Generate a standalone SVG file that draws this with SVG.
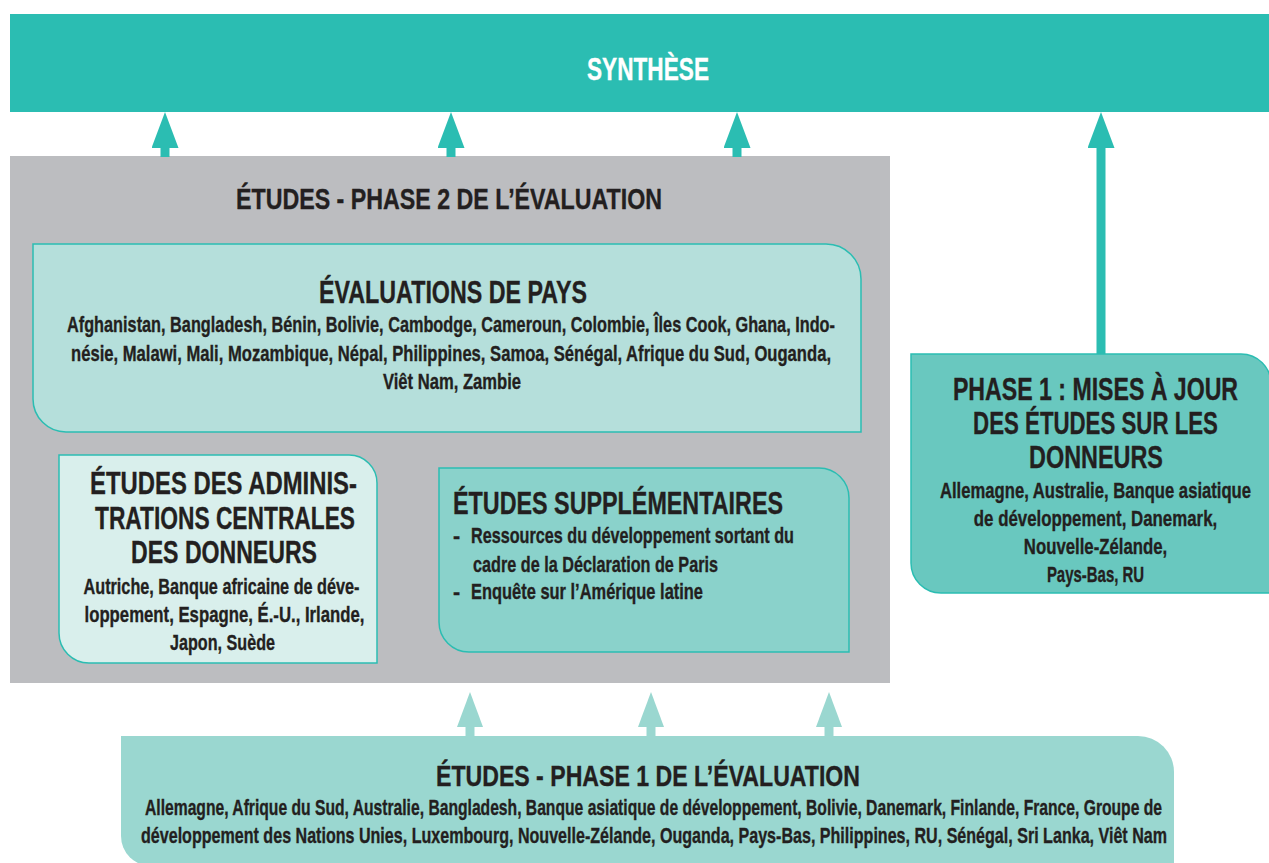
<svg xmlns="http://www.w3.org/2000/svg" width="1269" height="863" viewBox="0 0 1269 863">
<defs>
<style>
.t{font-family:"Liberation Sans Narrow","Liberation Sans","DejaVu Sans Condensed",sans-serif;font-weight:700;fill:#231f20;stroke:#231f20;stroke-width:0.35;}
.w{fill:#ffffff;stroke:#ffffff;}
.c{text-anchor:middle;}
.h{font-size:31px;}
.g{font-size:29.5px;}
.b{font-size:21.5px;}
.box{stroke:#2bbdb2;stroke-width:1.5;}
.a1{stroke:#2bbdb2;stroke-width:9;fill:none;}
.a2{stroke:#9ad7d0;stroke-width:9;fill:none;}
</style>
<marker id="m1" markerUnits="userSpaceOnUse" viewBox="0 0 36 27" refX="0" refY="13.5" markerWidth="36" markerHeight="27" orient="auto">
<path d="M0,0 L36,13.5 L0,27 Z" fill="#2bbdb2"/>
</marker>
<marker id="m2" markerUnits="userSpaceOnUse" viewBox="0 0 35 26" refX="0" refY="13" markerWidth="35" markerHeight="26" orient="auto">
<path d="M0,0 L35,13 L0,26 Z" fill="#9ad7d0"/>
</marker>
</defs>
<rect width="1269" height="863" fill="#ffffff"/>

<g id="synthese">
<rect x="10" y="14" width="1259" height="98" fill="#2bbdb2"/>
<text class="t w c" x="648" y="80" font-size="32" textLength="122" lengthAdjust="spacingAndGlyphs">SYNTHÈSE</text>
</g>

<g id="phase2">
<rect x="10" y="156" width="880" height="527" fill="#bcbdc0"/>
<text class="t g c" x="449" y="209" textLength="426" lengthAdjust="spacingAndGlyphs">ÉTUDES - PHASE 2 DE L’ÉVALUATION</text>
</g>

<g id="evaluations-pays">
<path class="box" d="M33,244 H826 A35,35 0 0 1 861,279 V432 H66 A33,33 0 0 1 33,399 Z" fill="#b5dfdb"/>
<text class="t h c" x="453" y="302.5" textLength="268" lengthAdjust="spacingAndGlyphs">ÉVALUATIONS DE PAYS</text>
<text class="t b c" x="451" y="331.5" textLength="768" lengthAdjust="spacingAndGlyphs">Afghanistan, Bangladesh, Bénin, Bolivie, Cambodge, Cameroun, Colombie, Îles Cook, Ghana, Indo-</text>
<text class="t b c" x="451" y="360.5" textLength="760" lengthAdjust="spacingAndGlyphs">nésie, Malawi, Mali, Mozambique, Népal, Philippines, Samoa, Sénégal, Afrique du Sud, Ouganda,</text>
<text class="t b c" x="452" y="388.5" textLength="138" lengthAdjust="spacingAndGlyphs">Viêt Nam, Zambie</text>
</g>

<g id="administrations-centrales">
<path class="box" d="M59,455 H349 A28,28 0 0 1 377,483 V663 H89 A30,30 0 0 1 59,633 Z" fill="#d9efec"/>
<text class="t h c" x="223.5" y="494" textLength="267" lengthAdjust="spacingAndGlyphs">ÉTUDES DES ADMINIS-</text>
<text class="t h c" x="225" y="529" textLength="260" lengthAdjust="spacingAndGlyphs">TRATIONS CENTRALES</text>
<text class="t h c" x="224" y="563" textLength="186" lengthAdjust="spacingAndGlyphs">DES DONNEURS</text>
<text class="t b c" x="221.5" y="594" textLength="276" lengthAdjust="spacingAndGlyphs">Autriche, Banque africaine de déve-</text>
<text class="t b c" x="224.5" y="621.5" textLength="280" lengthAdjust="spacingAndGlyphs">loppement, Espagne, É.-U., Irlande,</text>
<text class="t b c" x="222.5" y="649.5" textLength="105" lengthAdjust="spacingAndGlyphs">Japon, Suède</text>
</g>

<g id="etudes-supplementaires">
<path class="box" d="M439,468 H819 A30,30 0 0 1 849,498 V652 H469 A30,30 0 0 1 439,622 Z" fill="#8ad2cb"/>
<text class="t h" x="453" y="514" textLength="330" lengthAdjust="spacingAndGlyphs">ÉTUDES SUPPLÉMENTAIRES</text>
<text class="t b" x="453" y="543">-</text>
<text class="t b" x="471" y="543" textLength="323" lengthAdjust="spacingAndGlyphs">Ressources du développement sortant du</text>
<text class="t b" x="473" y="571.5" textLength="245" lengthAdjust="spacingAndGlyphs">cadre de la Déclaration de Paris</text>
<text class="t b" x="453" y="599">-</text>
<text class="t b" x="471" y="599" textLength="232" lengthAdjust="spacingAndGlyphs">Enquête sur l’Amérique latine</text>
</g>

<g id="phase1-donneurs">
<path class="box" d="M911,354 H1241 A30,30 0 0 1 1271,384 V593 H941 A30,30 0 0 1 911,563 Z" fill="#69c8bf"/>
<text class="t h c" transform="translate(1095.5 400) scale(0.72 1)" textLength="396" lengthAdjust="spacingAndGlyphs">PHASE 1 : MISES À JOUR</text>
<text class="t h c" transform="translate(1095.5 434) scale(0.72 1)" textLength="340" lengthAdjust="spacingAndGlyphs">DES ÉTUDES SUR LES</text>
<text class="t h c" transform="translate(1096 468) scale(0.72 1)" textLength="186" lengthAdjust="spacingAndGlyphs">DONNEURS</text>
<text class="t b c" transform="translate(1095.5 497.5) scale(0.72 1)" textLength="432" lengthAdjust="spacingAndGlyphs">Allemagne, Australie, Banque asiatique</text>
<text class="t b c" transform="translate(1095.5 525.5) scale(0.72 1)" textLength="338" lengthAdjust="spacingAndGlyphs">de développement, Danemark,</text>
<text class="t b c" transform="translate(1095.5 553.5) scale(0.72 1)" textLength="199" lengthAdjust="spacingAndGlyphs">Nouvelle-Zélande,</text>
<text class="t b c" transform="translate(1095.5 582) scale(0.72 1)" textLength="135" lengthAdjust="spacingAndGlyphs">Pays-Bas, RU</text>
</g>

<g id="phase1-evaluation">
<path d="M121,736 H1138 A36,36 0 0 1 1174,772 V866 H151 A30,30 0 0 1 121,836 Z" fill="#9ad7d0"/>
<text class="t g c" x="648" y="786" textLength="424" lengthAdjust="spacingAndGlyphs">ÉTUDES - PHASE 1 DE L’ÉVALUATION</text>
<text class="t b c" transform="translate(653.5 815) scale(0.72 1)" textLength="1412.5" lengthAdjust="spacingAndGlyphs">Allemagne, Afrique du Sud, Australie, Bangladesh, Banque asiatique de développement, Bolivie, Danemark, Finlande, France, Groupe de</text>
<text class="t b c" transform="translate(654 843) scale(0.72 1)" textLength="1425" lengthAdjust="spacingAndGlyphs">développement des Nations Unies, Luxembourg, Nouvelle-Zélande, Ouganda, Pays-Bas, Philippines, RU, Sénégal, Sri Lanka, Viêt Nam</text>
</g>

<g id="connectors">
<line class="a1" x1="165" y1="157" x2="165" y2="148" marker-end="url(#m1)"/>
<line class="a1" x1="451" y1="157" x2="451" y2="148" marker-end="url(#m1)"/>
<line class="a1" x1="737" y1="157" x2="737" y2="148" marker-end="url(#m1)"/>
<line class="a1" x1="1101" y1="354" x2="1101" y2="148" marker-end="url(#m1)"/>
<line class="a2" x1="470" y1="736" x2="470" y2="727" marker-end="url(#m2)"/>
<line class="a2" x1="651" y1="736" x2="651" y2="727" marker-end="url(#m2)"/>
<line class="a2" x1="829" y1="736" x2="829" y2="727" marker-end="url(#m2)"/>
</g>
</svg>
